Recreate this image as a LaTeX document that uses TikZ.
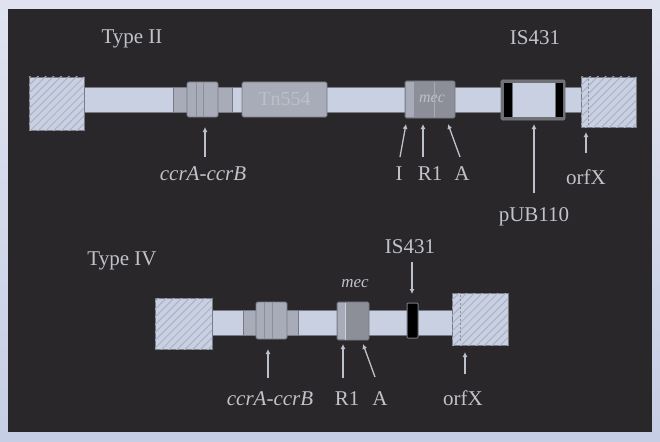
\documentclass[tikz,border=0pt]{standalone}
\usepackage{fontspec}
\setmainfont{Liberation Serif}
\usetikzlibrary{arrows.meta,patterns.meta}
\definecolor{panel}{HTML}{292729}
\definecolor{frameA}{HTML}{E0E3EF}
\definecolor{frameB}{HTML}{C6CEE5}
\definecolor{barc}{HTML}{C8D0E1}
\definecolor{grayc}{HTML}{A8ACB8}
\definecolor{darkc}{HTML}{8C8F97}
\definecolor{edge}{HTML}{767A84}
\definecolor{hatch}{HTML}{AAB2C5}
\definecolor{txt}{HTML}{C0C3CA}
\definecolor{arrc}{HTML}{BCC0CA}
\definecolor{faint}{HTML}{BCC0C8}
\begin{document}
\begin{tikzpicture}[x=1pt,y=-1pt]
\tikzset{
  lbl/.style={text=txt, inner sep=0pt, anchor=base, font=\fontsize{21}{24}\selectfont},
  ilbl/.style={lbl, font=\fontsize{21}{24}\selectfont\itshape},
  hatchbox/.style={draw=edge, line width=0.8pt, fill=barc, inner sep=0pt,
    postaction={pattern={Lines[angle=45,distance=5.5pt,line width=1pt]}, pattern color=hatch}},
  barbox/.style={draw=edge, line width=0.8pt, fill=barc, inner sep=0pt},
  graybox/.style={draw=edge, line width=0.8pt, fill=grayc, inner sep=0pt},
  elem/.style={graybox, rounded corners=1.5pt},
  divline/.style={draw=darkc, line width=0.9pt},
  dashline/.style={draw=darkc, line width=0.9pt, dash pattern=on 2pt off 2pt},
  arr/.style={draw=arrc, line width=1.3pt, -{Latex[length=5pt,width=5pt]}},
}
\useasboundingbox (0,0) rectangle (660,441);
\shade[top color=frameA, bottom color=frameB] (0,0) rectangle (660,441);
\fill[panel] (8,9) rectangle (652,432);

% ---------------- Type II ----------------
\node[lbl] (lT2) at (132,44) {Type II};
\node[lbl] (lIS2) at (535,45) {IS431};

\node[barbox, minimum width=505pt, minimum height=25pt] (bar2) at (332.5,99.5) {};
\node[hatchbox, minimum width=55pt, minimum height=53pt] (lh2) at (56.5,103.5) {};
\node[hatchbox, minimum width=55pt, minimum height=50pt] (rh2) at (608.5,102) {};
\draw[dashline] (588,79) -- (588,125);

\node[graybox, minimum width=59pt, minimum height=25pt] (ccro2) at (202.5,99.5) {};
\node[elem, minimum width=31pt, minimum height=35pt] (ccr2) at (202.5,99.5) {};
\draw[divline] (196,82) -- (196,117);
\draw[divline] (203,82) -- (203,117);

\node[elem, minimum width=85pt, minimum height=35pt, text=faint,
      font=\fontsize{20}{22}\selectfont] (tn2) at (284.5,99.5) {Tn554};

\node[elem, fill=darkc, minimum width=50pt, minimum height=37pt] (mec2) at (430,99.5) {};
\fill[grayc] (405.6,81.6) rectangle (413,117.4);
\node[text=faint, inner sep=0pt, font=\fontsize{16}{18}\selectfont\itshape] (tmec2) at (432,99) {mec};
\draw[line width=0.9pt, draw=grayc] (413,82) -- (413,117);
\draw[line width=0.9pt, draw=grayc] (434,82) -- (434,117);

\node[elem, fill=darkc!70!panel, minimum width=64pt, minimum height=40pt] (is2) at (533,100) {};
\fill[black] (504,83) rectangle (512,117);
\fill[black] (556,83) rectangle (563,117);
\fill[barc] (513,83) rectangle (555,117);

% labels and arrows Type II
\node[ilbl] (lccr2) at (203,180) {ccrA-ccrB};
\node[lbl] (lI2) at (399,180) {I};
\node[lbl] (lR2) at (430,180) {R1};
\node[lbl] (lA2) at (462,180) {A};
\node[lbl] (lp2) at (534,221) {pUB110};
\node[lbl] (lo2) at (586,184) {orfX};

\coordinate (tccr2) at (205,157); \coordinate (hccr2) at (205,127);
\coordinate (tI2) at (400,157);   \coordinate (hI2) at (406,124);
\coordinate (tR2) at (423,157);   \coordinate (hR2) at (423,124);
\coordinate (tA2) at (460,157);   \coordinate (hA2) at (448,124);
\coordinate (tp2) at (534,193);   \coordinate (hp2) at (534,124);
\coordinate (to2) at (586,153);   \coordinate (ho2) at (586,132);
\draw[arr] (tccr2) -- (hccr2);
\draw[arr] (tI2) -- (hI2);
\draw[arr] (tR2) -- (hR2);
\draw[arr] (tA2) -- (hA2);
\draw[arr] (tp2) -- (hp2);
\draw[arr] (to2) -- (ho2);

% ---------------- Type IV ----------------
\node[lbl] (lT4) at (122,265) {Type IV};
\node[lbl] (lIS4) at (410,253) {IS431};

\node[barbox, minimum width=248pt, minimum height=25pt] (bar4) at (332,322.5) {};
\node[hatchbox, minimum width=57pt, minimum height=51pt] (lh4) at (183.5,323.5) {};
\node[hatchbox, minimum width=56pt, minimum height=52pt] (rh4) at (480,319) {};
\draw[dashline] (460,295) -- (460,343);

\node[graybox, minimum width=55pt, minimum height=25pt] (ccro4) at (270.5,322.5) {};
\node[elem, minimum width=31pt, minimum height=37pt] (ccr4) at (271.5,320.5) {};
\draw[divline] (264,302) -- (264,339);
\draw[divline] (272,302) -- (272,339);

\node[elem, fill=darkc, minimum width=32pt, minimum height=38pt] (mec4) at (353,321) {};
\fill[grayc] (337.6,302.6) rectangle (345,339.4);
\draw[line width=0.9pt, draw=barc] (345,302.5) -- (345,339.5);
\node[ilbl, font=\fontsize{17}{20}\selectfont\itshape] (lmec4) at (355,287) {mec};

\node[draw=edge, fill=black, line width=1pt, rounded corners=1pt, inner sep=0pt,
      minimum width=11pt, minimum height=35pt] (is4) at (412.5,320.5) {};

\node[ilbl] (lccr4) at (270,405) {ccrA-ccrB};
\node[lbl] (lR4) at (347,405) {R1};
\node[lbl] (lA4) at (380,405) {A};
\node[lbl] (lo4) at (463,405) {orfX};

\coordinate (tccr4) at (268,378); \coordinate (hccr4) at (268,349);
\coordinate (tR4) at (343,378);   \coordinate (hR4) at (343,344);
\coordinate (tA4) at (375,377);   \coordinate (hA4) at (363,344);
\coordinate (to4) at (465,374);   \coordinate (ho4) at (465,352);
\coordinate (tIS4) at (412,262);  \coordinate (hIS4) at (412,294);
\draw[arr] (tccr4) -- (hccr4);
\draw[arr] (tR4) -- (hR4);
\draw[arr] (tA4) -- (hA4);
\draw[arr] (to4) -- (ho4);
\draw[arr] (tIS4) -- (hIS4);
\end{tikzpicture}
\end{document}
